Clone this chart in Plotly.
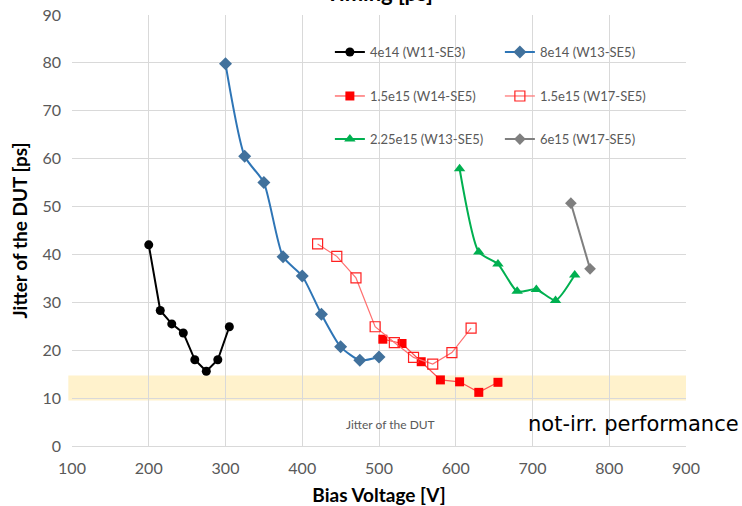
import plotly.graph_objects as go

# Bias voltage [V] and jitter [ps] per irradiated sensor
v_4e14 = [200, 215, 230, 245, 260, 275, 290, 305]
j_4e14 = [42.0, 28.3, 25.5, 23.6, 18.0, 15.6, 18.0, 24.9]

v_8e14 = [300, 325, 350, 375, 400, 425, 450, 475, 500]
j_8e14 = [79.8, 60.5, 55.0, 39.5, 35.5, 27.5, 20.7, 17.9, 18.6]

v_15e15_w14 = [505, 530, 555, 580, 605, 630, 655]
j_15e15_w14 = [22.3, 21.4, 17.6, 13.8, 13.4, 11.2, 13.3]

v_15e15_w17 = [420, 445, 470, 495, 520, 545, 570, 595, 620]
j_15e15_w17 = [42.2, 39.6, 35.1, 24.9, 21.6, 18.5, 17.1, 19.5, 24.6]

v_225e15 = [605, 630, 655, 680, 705, 730, 755]
j_225e15 = [57.9, 40.5, 38.0, 32.3, 32.7, 30.4, 35.7]

v_6e15 = [750, 775]
j_6e15 = [50.7, 37.0]

# Non-irradiated reference band [ps]
band_low, band_high = 9.5, 14.7

FONT = "Lato"
GREY_TXT = "#595959"

fig = go.Figure()

fig.add_trace(go.Scatter(
    x=v_4e14, y=j_4e14, name="4e14 (W11-SE3)", mode="lines+markers",
    line=dict(color="#000000", width=2),
    marker=dict(symbol="circle", size=9, color="#000000"),
    legend="legend"))
fig.add_trace(go.Scatter(
    x=v_8e14, y=j_8e14, name="8e14 (W13-SE5)", mode="lines+markers",
    line=dict(color="#2E75B6", width=2, shape="spline", smoothing=0.6),
    marker=dict(symbol="diamond", size=10, color="#41719C"),
    legend="legend"))
fig.add_trace(go.Scatter(
    x=v_15e15_w14, y=j_15e15_w14, name="1.5e15 (W14-SE5)", mode="lines+markers",
    line=dict(color="#FF5050", width=1.2),
    marker=dict(symbol="square", size=9, color="#FF0000"),
    legend="legend2"))
fig.add_trace(go.Scatter(
    x=v_15e15_w17, y=j_15e15_w17, name="1.5e15 (W17-SE5)", mode="lines+markers",
    line=dict(color="#FF7070", width=1.2),
    marker=dict(symbol="square-open", size=10, color="#FF2020",
                line=dict(width=1.2)),
    legend="legend2"))
fig.add_trace(go.Scatter(
    x=v_225e15, y=j_225e15, name="2.25e15 (W13-SE5)", mode="lines+markers",
    line=dict(color="#00B050", width=2, shape="spline", smoothing=0.6),
    marker=dict(symbol="triangle-up", size=10, color="#00B050"),
    legend="legend3"))
fig.add_trace(go.Scatter(
    x=v_6e15, y=j_6e15, name="6e15 (W17-SE5)", mode="lines+markers",
    line=dict(color="#7F7F7F", width=2),
    marker=dict(symbol="diamond", size=9, color="#7F7F7F"),
    legend="legend3"))

# Shaded band: jitter of the non-irradiated DUT
fig.add_shape(type="rect", xref="paper", yref="y",
              x0=-0.006, x1=1.0, y0=band_low, y1=band_high,
              fillcolor="#FFF2CC", line=dict(width=0), layer="below")

fig.add_annotation(x=515, y=4.4, xref="x", yref="y", text="Jitter of the DUT",
                   showarrow=False, font=dict(family=FONT, size=12, color=GREY_TXT))
fig.add_annotation(x=1.0 + (741 - 686) / 614, y=4.6, xref="paper", yref="y",
                   xanchor="right", text="not-irr. performance", showarrow=False,
                   font=dict(family="DejaVu Sans", size=21, color="#000000"))

# Chart title, mostly above the visible area
fig.add_annotation(x=0.5, y=1.016, xref="paper", yref="paper", xanchor="center",
                   yanchor="bottom", text="<b>Timing [ps]</b>", showarrow=False,
                   font=dict(family=FONT, size=22, color="#000000"))

leg_common = dict(orientation="h", xanchor="left", yanchor="middle",
                  bgcolor="rgba(0,0,0,0)", entrywidth=125,
                  font=dict(family=FONT, size=13, color=GREY_TXT))
fig.update_layout(
    width=742, height=506,
    margin=dict(l=72, r=56, t=15, b=60, autoexpand=False),
    paper_bgcolor="white", plot_bgcolor="white",
    font=dict(family=FONT, color=GREY_TXT),
    legend=dict(x=0.42, y=0.914, **leg_common),
    legend2=dict(x=0.42, y=0.812, **leg_common),
    legend3=dict(x=0.42, y=0.712, **leg_common),
    xaxis=dict(range=[100, 900], dtick=100, tick0=100, automargin=False,
               showgrid=True, gridcolor="#D9D9D9", gridwidth=1,
               showline=True, linecolor="#D9D9D9", zeroline=False,
               ticks="", ticklabelstandoff=8,
               tickfont=dict(family=FONT, size=16, color=GREY_TXT),
               title=dict(text="<b>Bias Voltage [V]</b>", standoff=14,
                          font=dict(family=FONT, size=19, color="#000000"))),
    yaxis=dict(range=[0, 90], dtick=10, automargin=False,
               showgrid=True, gridcolor="#D9D9D9", gridwidth=1,
               showline=False, zeroline=False,
               ticks="", ticklabelstandoff=10,
               tickfont=dict(family=FONT, size=16, color=GREY_TXT),
               title=dict(text="<b>Jitter of the DUT [ps]</b>", standoff=9,
                          font=dict(family=FONT, size=19, color="#000000"))),
)

fig.write_html("out.html")
